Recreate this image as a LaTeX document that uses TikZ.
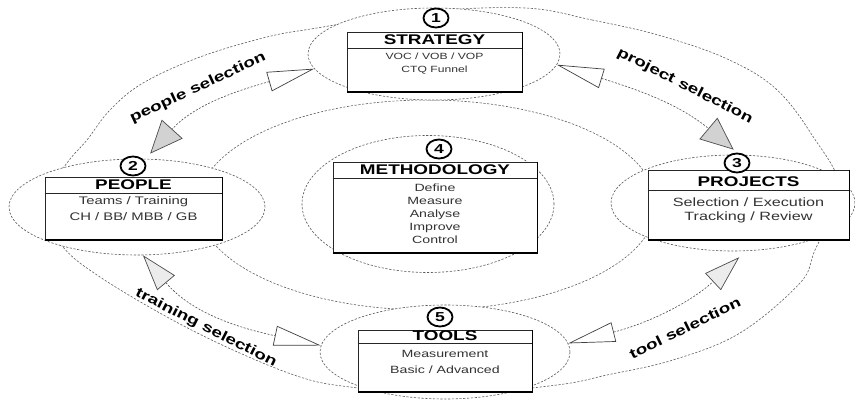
\documentclass[tikz,border=0pt]{standalone}
\usepackage{fontspec}
\newfontfamily\wf[FakeStretch=1.35]{Liberation Sans}
\usetikzlibrary{arrows.meta,shapes.geometric}
\tikzset{
  wt/.tip={Triangle[length=47pt,width=20pt,color=black!75,fill=white,line width=0.7pt]},
  gt/.tip={Triangle[length=33pt,width=28pt,color=black!70,fill=gray!35,line width=0.7pt]},
  lt/.tip={Triangle[length=36pt,width=23pt,color=black!70,fill=gray!15,line width=0.7pt]},
}
\begin{document}
\begin{tikzpicture}[x=1pt,y=1pt,
  ring/.style={draw=gray!75!black, line width=0.6pt, dash pattern=on 2.2pt off 1.6pt},
  oval/.style={ellipse, draw=gray!70!black, fill=white, line width=0.6pt, dash pattern=on 2.2pt off 1.6pt, inner sep=0pt},
  box/.style={draw=black!85, line width=0.8pt, inner sep=0pt, fill=white},
  shadowline/.style={draw=black, line width=1.8pt},
  divline/.style={draw=black!85, line width=0.8pt},
  hdr/.style={font=\wf\bfseries\fontsize{14}{15}\selectfont, inner sep=0pt},
  body/.style={align=center, inner sep=0pt, text=black!80},
  num/.style={ellipse, draw=black, line width=1.8pt, minimum width=25pt, minimum height=19pt, inner sep=0pt, fill=white, font=\wf\bfseries\fontsize{13}{13}\selectfont},
  lbl/.style={font=\wf\bfseries\fontsize{14}{14}\selectfont, inner sep=0pt},
  link/.style={draw=gray!60!black, line width=0.6pt, dash pattern=on 2pt off 1.5pt},
]
\fill[white] (0,0) rectangle (855,404);
\useasboundingbox (0,0) rectangle (855,404);

% background rings
\draw[ring] (427,199) ellipse [x radius=229, y radius=105];
\draw[ring] plot[smooth cycle, tension=0.6] coordinates {
 (525,396) (592,384) (658,369) (725,346) (775,316) (812,269) (840,214) (815,154)
 (800,121) (740,71) (673,44) (607,29) (557,19) (445,9) (350,17) (300,27) (233,54)
 (167,87) (100,127) (63,157) (40,199) (67,241) (87,264) (110,294) (143,321)
 (200,347) (267,367) (317,376) (420,392)};

% 1 STRATEGY
\node[oval, minimum width=252pt, minimum height=92pt] (str) at (434,350) {};
\node[box, minimum width=175pt, minimum height=60pt] (bstr) at (434.5,342) {};
\draw[shadowline] (bstr.north east) -- (bstr.south east) -- (bstr.south west);
\draw[divline] (bstr.west |- 0,356) -- (bstr.east |- 0,356);
\node[hdr] (hstr) at (434.5,364) {STRATEGY};
\node[body, font=\wf\fontsize{9}{13}\selectfont] (tstr) at (434.5,340) {VOC / VOB / VOP\\CTQ Funnel};
\node[num] (c1) at (436,386) {1};

% 2 PEOPLE
\node[oval, minimum width=256pt, minimum height=96pt] (ppl) at (137,197) {};
\node[box, minimum width=177pt, minimum height=63pt] (bppl) at (133.5,195.5) {};
\draw[shadowline] (bppl.north east) -- (bppl.south east) -- (bppl.south west);
\draw[divline] (bppl.west |- 0,211) -- (bppl.east |- 0,211);
\node[hdr] (hppl) at (133.5,219) {PEOPLE};
\node[body, font=\wf\fontsize{11}{16}\selectfont] (tppl) at (133.5,195) {Teams / Training\\CH / BB/ MBB / GB};
\node[num] (c2) at (133,238) {2};

% 3 PROJECTS
\node[oval, minimum width=244pt, minimum height=96pt] (prj) at (733,201) {};
\node[box, minimum width=201pt, minimum height=70pt] (bprj) at (748.5,199) {};
\draw[shadowline] (bprj.north east) -- (bprj.south east) -- (bprj.south west);
\draw[divline] (bprj.west |- 0,214) -- (bprj.east |- 0,214);
\node[hdr] (hprj) at (748.5,222) {PROJECTS};
\node[body, font=\wf\fontsize{12}{14}\selectfont] (tprj) at (748.5,194) {Selection / Execution\\Tracking / Review};
\node[num] (c3) at (737,241) {3};

% 4 METHODOLOGY
\node[oval, minimum width=252pt, minimum height=137pt] (mth) at (428,200) {};
\node[box, minimum width=204pt, minimum height=91pt] (bmth) at (435,196.5) {};
\draw[shadowline] (bmth.north east) -- (bmth.south east) -- (bmth.south west);
\draw[divline] (bmth.west |- 0,226) -- (bmth.east |- 0,226);
\node[hdr] (hmth) at (435,234) {METHODOLOGY};
\node[body, font=\wf\fontsize{10.5}{13}\selectfont] (tmth) at (435,190) {Define\\Measure\\Analyse\\Improve\\Control};
\node[num] (c4) at (439,255) {4};

% 5 TOOLS
\node[oval, minimum width=250pt, minimum height=94pt] (tls) at (445,52) {};
\node[box, minimum width=174pt, minimum height=62pt] (btls) at (445,43) {};
\draw[shadowline] (btls.north east) -- (btls.south east) -- (btls.south west);
\draw[divline] (btls.west |- 0,61) -- (btls.east |- 0,61);
\node[hdr] (htls) at (445,68) {TOOLS};
\node[body, font=\wf\fontsize{10.5}{16}\selectfont] (ttls) at (445,42) {Measurement\\Basic / Advanced};
\node[num] (c5) at (440,87) {5};

% connectors
\draw[link, {wt}-{gt}, shorten >=7pt] (str.187.5) to[out=196, in=48] (ppl.80);
\draw[link, {wt}-{gt}, shorten >=8pt] (str.-5) to[out=343, in=140] (prj.82);
\draw[link, {lt}-{wt}] (ppl.-83) to[out=310, in=168] (tls.177);
\draw[link, {wt}-{lt}, shorten >=9pt] (tls.4) to[out=14, in=223] (prj.-75);

% labels
\node[lbl, rotate=25] (l1) at (198,316) {people selection};
\node[lbl, rotate=-27] (l2) at (685,318) {project selection};
\node[lbl, rotate=-27] (l3) at (206,76) {training selection};
\node[lbl, rotate=26] (l4) at (685,76) {tool selection};
\end{tikzpicture}
\end{document}
